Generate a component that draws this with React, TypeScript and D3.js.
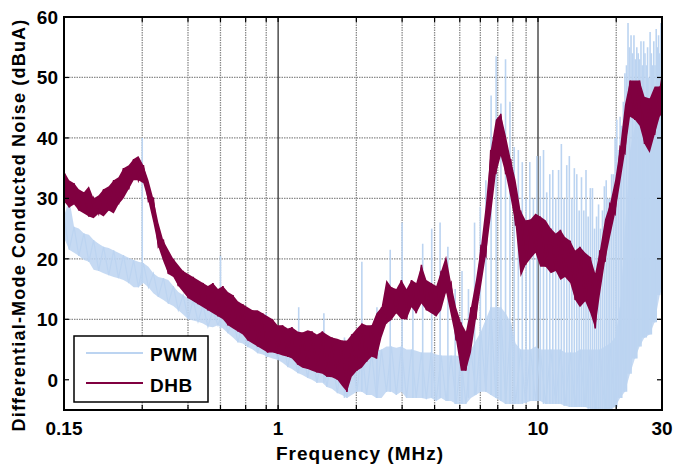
import React from 'react'
import * as d3 from 'd3'

// frequency grid (MHz), roughly 1/52 decade apart
const freqs = [
  0.150, 0.157, 0.164, 0.171, 0.179, 0.187, 0.195, 0.204, 0.213, 0.223,
  0.233, 0.243, 0.254, 0.266, 0.278, 0.290, 0.303, 0.317, 0.331, 0.346,
  0.362, 0.378, 0.395, 0.413, 0.431, 0.451, 0.471, 0.492, 0.514, 0.537,
  0.561, 0.587, 0.613, 0.641, 0.670, 0.700, 0.731, 0.764, 0.798, 0.834,
  0.872, 0.911, 0.952, 0.995, 1.04, 1.09, 1.13, 1.19, 1.24, 1.30,
  1.35, 1.41, 1.48, 1.54, 1.61, 1.69, 1.76, 1.84, 1.92, 2.01,
  2.10, 2.19, 2.29, 2.39, 2.50, 2.61, 2.73, 2.85, 2.98, 3.12,
  3.26, 3.40, 3.56, 3.72, 3.88, 4.06, 4.24, 4.43, 4.63, 4.84,
  5.05, 5.28, 5.52, 5.77, 6.03, 6.30, 6.58, 6.88, 7.19, 7.51,
  7.85, 8.20, 8.57, 8.96, 9.36, 9.78, 10.2, 10.7, 11.2, 11.7,
  12.2, 12.7, 13.3, 13.9, 14.5, 15.2, 15.9, 16.6, 17.3, 18.1,
  18.9, 19.8, 20.7, 21.6, 22.6, 23.6, 24.6, 25.7, 26.9, 28.1,
  29.4, 30.0,
]

// DHB noise band (dBuA)
const dhbLo = [
  29.5, 28.5, 29, 28, 27.5, 27, 26.7, 27.5, 27, 28,
  27.5, 29, 30, 31.5, 33, 33, 32.5, 29.5, 26, 22,
  19.5, 17.5, 17, 15.5, 14.5, 13.5, 13, 12.5, 12, 11.5,
  11, 10.5, 10, 9, 8.5, 8, 7.5, 6.5, 6, 5.5,
  5, 4.5, 4.5, 4.3, 4, 3.8, 3.5, 2.5, 2, 1.8,
  1.5, 1.2, 1, 0.5, 0.4, 0, -1, -2, 0.5, 1.5,
  2, 3, 3.8, 3.5, 7, 9.3, 9.9, 11, 10, 10,
  12, 11, 12.6, 11.5, 11, 10.5, 11.5, 14.5, 10.5, 6.5,
  1.5, 1.5, 4.5, 10, 15.3, 20.5, 27, 34, 37, 34,
  30, 25.5, 17, 19, 20, 21, 18.7, 18.7, 17.6, 18,
  16.5, 17, 16, 13.2, 12, 13, 11, 8.5, 14, 19.5,
  23.5, 27.5, 32.5, 37.5, 43.5, 43, 42, 39, 37.5, 40.5,
  43.5, 44,
]
const dhbHi = [
  34.5, 33, 32.5, 31.5, 31, 32, 30, 30.5, 31.5, 32,
  33, 33.5, 35, 35.5, 36.5, 37, 35.5, 33, 30, 26,
  23, 21.5, 20, 19, 18, 17.5, 17, 16.5, 16, 15.5,
  16, 15, 15.5, 14.5, 14, 13, 12.5, 12, 11.5, 11.5,
  11, 10.5, 10, 9, 9, 8.5, 8.7, 8, 7.8, 8.2,
  8, 7.5, 8, 7.5, 7, 6.8, 6.5, 6.5, 7.5, 8.5,
  9.3, 9, 9, 11, 12, 16.5, 15.3, 15, 16.5, 15,
  16.5, 16, 19, 16.5, 16, 15.5, 18, 20.5, 16, 12,
  9.5, 8, 12, 16.5, 22, 29, 38, 43, 44, 40.5,
  36.5, 33, 28, 26.4, 26.5, 27.5, 27, 26.4, 25, 24.2,
  24.8, 23.6, 23, 21.4, 22, 21, 20.3, 17.6, 21.4, 26.5,
  29, 33, 38.5, 45.5, 49.5, 49.5, 49.5, 46.8, 46.5, 48.5,
  48.5, 51,
]

// PWM noise floor band (dBuA)
const pwmLo = [
  23.5, 21.5, 21, 20.5, 19.8, 19.5, 18.2, 18, 17.6, 17.3,
  17, 16.8, 16.5, 16, 15.3, 15.3, 16, 15.3, 14.3, 13.7,
  13.2, 12.6, 12.2, 11.5, 10.8, 10, 9.8, 9.6, 9.3, 8.8,
  8.7, 9, 8.5, 7.7, 7, 6.2, 6, 5.4, 5, 4.4,
  4.2, 3.8, 3.5, 3.3, 2.8, 2.1, 1.8, 1.1, 0.8, 0.3,
  0, -0.5, -0.5, -1.2, -1.5, -2.2, -2.5, -3, -2.5, -2,
  -2, -2.5, -2.5, -3, -3, -2, -2, -2.5, -2, -3,
  -3, -3, -3, -3.2, -3, -3.5, -3, -3.5, -3.5, -4,
  -4, -4, -3, -2.5, -2, -2, -2.5, -3, -3.5, -4,
  -4, -4, -4, -3.8, -3.5, -3.5, -3.5, -4, -4, -4,
  -4, -4.3, -4.5, -4.5, -4.5, -4.5, -4.8, -5, -5, -5,
  -5, -4.5, -3, -2, 1, 3.5, 5.5, 7, 7.5, 9.5,
  14, 15,
]
const pwmHi = [
  27, 30, 25.3, 25, 24.2, 24, 23.1, 22.5, 22, 21.8,
  21.4, 21, 20.6, 20.2, 19.8, 19.5, 19.3, 18.7, 17.6, 17,
  16.8, 16.5, 15.5, 14.5, 14, 13.5, 13.2, 12.8, 12.4, 11.8,
  11.5, 12, 11.5, 11, 10.5, 10, 9.5, 9, 8.8, 8.4,
  8, 7.6, 7.2, 7, 6.6, 6.2, 6, 5.6, 5.3, 5,
  4.8, 4.6, 4.4, 4.2, 4, 3.8, 3.6, 3.5, 4, 4.5,
  5, 4.5, 4.5, 4.8, 5, 5.5, 5.5, 5.3, 5.5, 5,
  5, 4.8, 4.5, 4.5, 4.5, 4.2, 4, 4, 4, 4,
  3.8, 4, 5, 6.5, 8, 10, 12, 12, 12, 11,
  9.5, 6, 5, 5, 5, 5.5, 5, 5, 5, 5,
  5, 4.5, 4.5, 4.5, 5, 5, 5, 5, 5, 5.5,
  6, 7, 12, 25, 38, 42, 44, 45, 45, 47,
  48, 49,
]

// PWM switching harmonics: [frequency MHz, peak dBuA]
const pwmSpikes: [number, number][] = [
  [0.3, 40], [0.6, 20.5], [0.9, 11], [1.2, 12], [1.5, 11], [1.8, 7], [2.1, 19.5], [2.4, 12],
  [2.7, 21.5], [3.0, 26], [3.3, 15], [3.6, 22.5], [3.9, 25], [4.2, 26], [4.5, 22], [4.8, 15],
  [5.1, 18], [5.4, 15], [5.7, 26], [6.0, 28.6], [6.3, 33], [6.6, 47], [6.9, 53.5], [7.2, 45.7],
  [7.5, 53], [7.8, 46], [8.1, 38.5], [8.4, 38], [8.7, 36], [9.0, 30], [9.3, 36], [9.6, 30],
  [9.9, 37], [10.2, 37], [10.5, 38], [10.8, 31], [11.1, 34], [11.4, 34.7], [11.7, 30], [12.0, 34.7],
  [12.3, 39], [12.6, 30], [12.9, 35.5], [13.2, 37], [13.5, 30], [13.8, 35], [14.1, 34], [14.4, 28],
  [14.7, 33.5], [15.0, 28], [15.3, 34.7], [15.6, 27], [15.9, 31.7], [16.2, 31.7], [16.5, 25], [16.8, 27],
  [17.1, 29], [17.4, 25], [17.7, 28], [18.0, 32], [18.3, 33], [18.6, 30], [18.9, 30], [19.2, 34],
  [19.5, 34], [19.8, 40], [20.1, 43], [20.4, 38], [20.7, 43.5], [21.0, 42], [21.3, 46], [21.6, 50.7],
  [21.9, 52], [22.2, 59], [22.5, 55], [22.8, 57], [23.1, 54], [23.4, 57], [23.7, 53], [24.0, 55],
  [24.3, 54], [24.6, 53], [24.9, 56], [25.2, 52], [25.5, 56], [25.8, 54], [26.1, 52], [26.4, 55],
  [26.7, 50], [27.0, 57.5], [27.3, 54], [27.6, 52], [27.9, 56], [28.2, 52], [28.5, 58], [28.8, 55],
  [29.1, 57], [29.4, 54], [29.7, 59], [30.0, 57],
]

const yTicks = [0, 10, 20, 30, 40, 50, 60]
const xTickLabels = [0.15, 1, 10, 30]
const xGridMinor = [0.3, 0.45, 0.6, 0.75, 0.9, 2, 3, 4, 5, 6, 7, 8, 9, 20]
const xGridMajor = [1, 10]

const PWM_COLOR = '#bcd4f1'
const DHB_COLOR = '#800040'
const FONT = '"Liberation Sans", Arial, sans-serif'

export default function App() {
  const W = 673
  const H = 465
  const left = 64, right = 662, top = 17, bottom = 410

  const x = d3.scaleLog().domain([0.15, 30]).range([left, right])
  const y = d3.scaleLinear().domain([-5, 60]).range([bottom, top])

  const idx = d3.range(freqs.length)

  const band = (lo: number[], hi: number[]) =>
    d3.area<number>()
      .x(i => x(freqs[i]))
      .y0(i => y(lo[i]))
      .y1(i => y(hi[i]))(idx) || ''

  // zigzag between the upper and lower envelopes
  const zigzag = (lo: number[], hi: number[]) =>
    d3.line<number>()
      .x(i => x(freqs[i]))
      .y(i => y(i % 2 === 0 ? hi[i] : lo[i]))(idx) || ''

  const nearest = d3.bisector((f: number) => f).center
  const spikeBase = (f: number) => pwmLo[nearest(freqs, f)]

  const allGrid = [...xGridMinor, ...xGridMajor]

  return (
    <svg width={W} height={H} style={{ position: 'absolute', left: 0, top: 0, background: '#fff' }}
      fontFamily={FONT}>
      <defs>
        <clipPath id="plot">
          <rect x={left} y={top} width={right - left} height={bottom - top} />
        </clipPath>
      </defs>

      {/* grid */}
      {yTicks.filter(v => v > 0 && v < 60).map(v => (
        <line key={'hy' + v} x1={left} x2={right} y1={y(v)} y2={y(v)}
          stroke="#8a8a8a" strokeWidth={1.3} strokeDasharray="1.5,1" />
      ))}
      {xGridMinor.map(f => (
        <line key={'vx' + f} x1={x(f)} x2={x(f)} y1={top} y2={bottom}
          stroke="#8a8a8a" strokeWidth={1.3} strokeDasharray="1.5,1" />
      ))}
      {xGridMajor.map(f => (
        <line key={'vm' + f} x1={x(f)} x2={x(f)} y1={top} y2={bottom}
          stroke="#222" strokeWidth={1.2} />
      ))}

      <g clipPath="url(#plot)">
        {/* PWM */}
        <path d={band(pwmLo, pwmHi)} fill={PWM_COLOR} opacity={0.85} />
        <path d={zigzag(pwmLo, pwmHi)} fill="none" stroke={PWM_COLOR} strokeWidth={1.2} />
        {pwmSpikes.map(([f, v]) => (
          <line key={'s' + f} x1={x(f)} x2={x(f)} y1={y(spikeBase(f))} y2={y(v)}
            stroke={PWM_COLOR} strokeWidth={1.6} />
        ))}
        {/* DHB */}
        <path d={band(dhbLo, dhbHi)} fill={DHB_COLOR} />
        <path d={zigzag(dhbLo, dhbHi)} fill="none" stroke={DHB_COLOR} strokeWidth={1.6} />
      </g>

      {/* frame */}
      <rect x={left} y={top} width={right - left} height={bottom - top} fill="none" stroke="#000" strokeWidth={2} />
      {allGrid.map(f => (
        <g key={'t' + f}>
          <line x1={x(f)} x2={x(f)} y1={top} y2={top + 5} stroke="#000" strokeWidth={1.2} />
          <line x1={x(f)} x2={x(f)} y1={bottom} y2={bottom - 5} stroke="#000" strokeWidth={1.2} />
        </g>
      ))}
      {yTicks.map(v => (
        <g key={'ty' + v}>
          <line x1={left} x2={left + 5} y1={y(v)} y2={y(v)} stroke="#000" strokeWidth={1.2} />
          <line x1={right} x2={right - 5} y1={y(v)} y2={y(v)} stroke="#000" strokeWidth={1.2} />
        </g>
      ))}

      {/* tick labels */}
      {yTicks.map(v => (
        <text key={'ly' + v} x={58} y={y(v) + 7} textAnchor="end" fontSize={19} fontWeight="bold">{v}</text>
      ))}
      {xTickLabels.map(f => (
        <text key={'lx' + f} x={x(f)} y={435} textAnchor="middle" fontSize={19} fontWeight="bold">{f}</text>
      ))}

      {/* axis titles */}
      <text x={360} y={460} textAnchor="middle" fontSize={19} fontWeight="bold" letterSpacing={1}>
        Frequency (MHz)
      </text>
      <text transform={`translate(25,${(top + 433) / 2}) rotate(-90)`} textAnchor="middle"
        fontSize={18} fontWeight="bold" letterSpacing={1.2}>
        Differential-Mode Conducted Noise (dBuA)
      </text>

      {/* legend */}
      <rect x={74} y={336} width={134} height={66} fill="#fff" stroke="#000" strokeWidth={1.5} />
      <line x1={86} x2={143} y1={353} y2={353} stroke={PWM_COLOR} strokeWidth={2} />
      <text x={150} y={361} fontSize={19} fontWeight="bold" letterSpacing={0.5}>PWM</text>
      <line x1={86} x2={143} y1={383} y2={383} stroke={DHB_COLOR} strokeWidth={2} />
      <text x={150} y={392} fontSize={19} fontWeight="bold" letterSpacing={0.5}>DHB</text>
    </svg>
  )
}
